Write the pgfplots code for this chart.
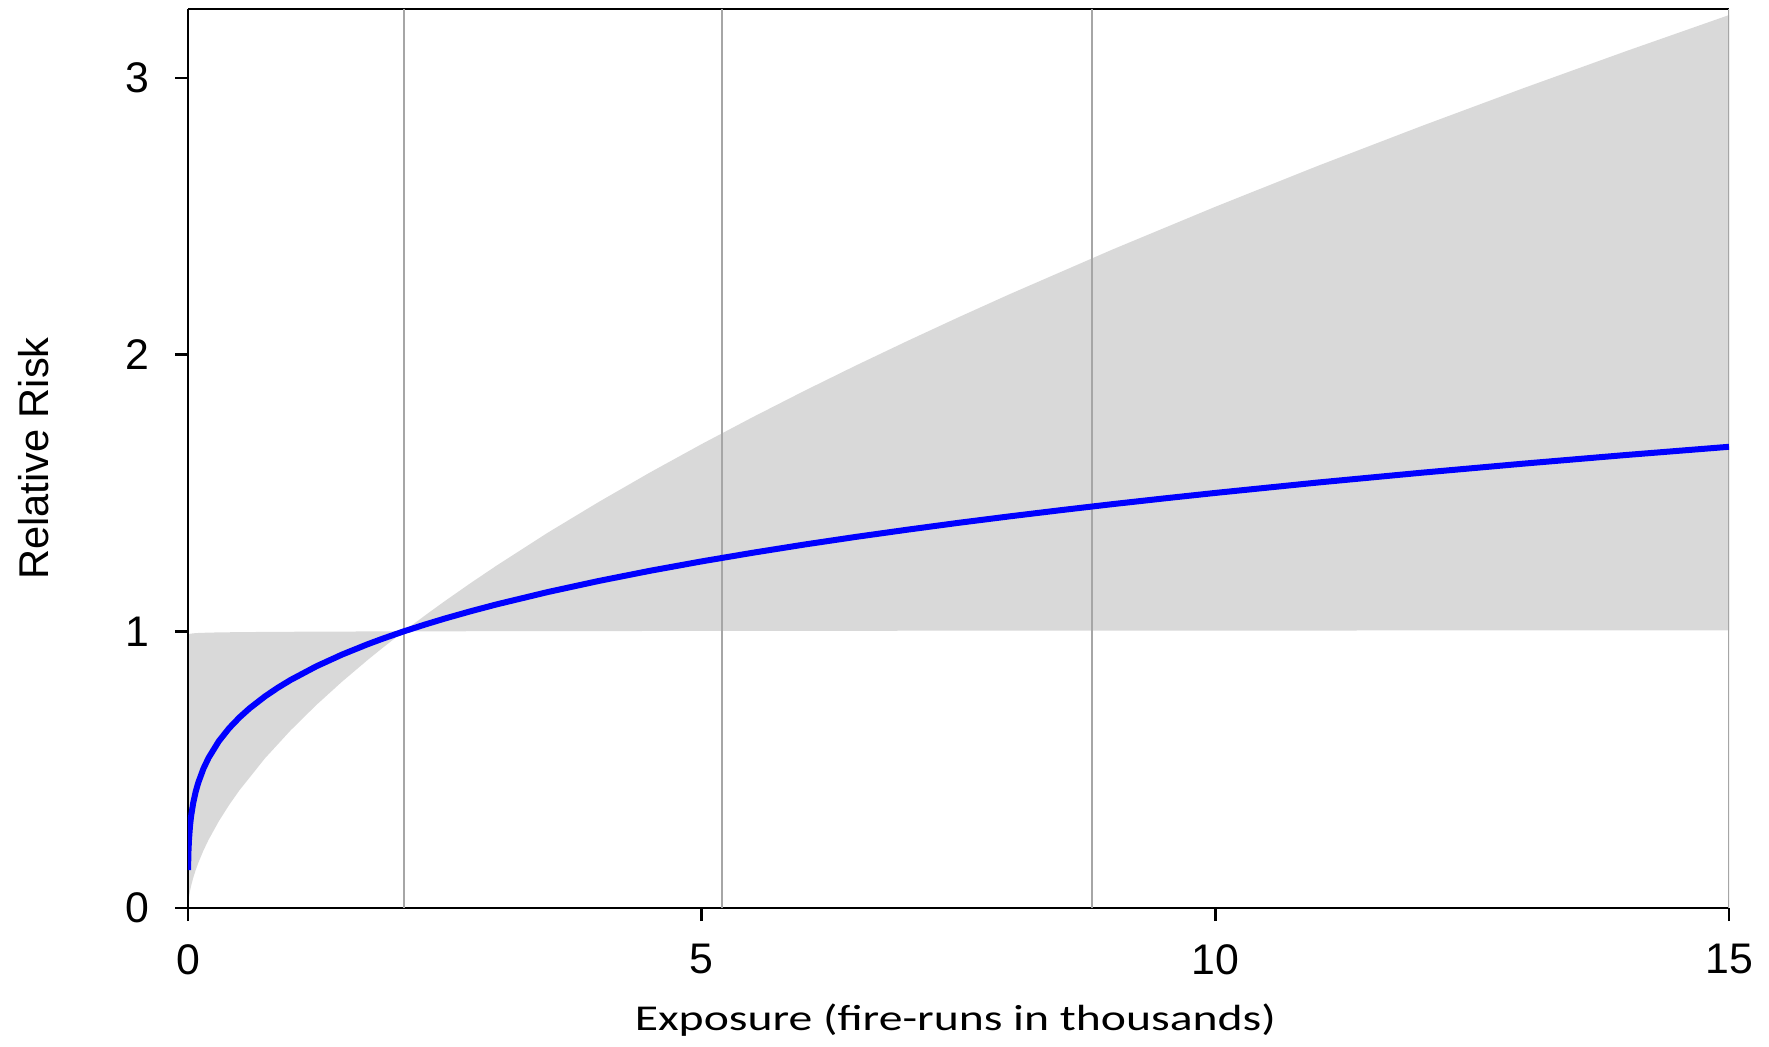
\documentclass[border=0pt]{standalone}
\usepackage{pgfplots}
\pgfplotsset{compat=1.18}
\usepackage{fontspec}
\setmainfont{Liberation Sans}
\newfontfamily\calibri[FakeStretch=1.31]{Carlito}
\definecolor{band}{HTML}{D9D9D9}
\definecolor{gridc}{HTML}{A6A6A6}
\definecolor{rrblue}{HTML}{0000FF}
\begin{document}
\begin{tikzpicture}
\begin{axis}[
  scale only axis, width=770.5pt, height=449.5pt,
  xmin=0, xmax=15, ymin=0, ymax=3.25,
  axis x line*=box, axis y line*=left,
  xtick={0,5,10,15}, ytick={0,1,2,3},
  xtick pos=bottom, ytick pos=left,
  tick align=outside, major tick length=6.5pt,
  every tick/.style={black, line width=1.3pt},
  axis line style={line width=1.3pt, black},
  /pgf/number format/assume math mode=true,
  tick label style={font=\fontsize{21.4}{24}\selectfont, inner sep=0pt},
  xticklabel style={anchor=north, yshift=-11.5pt},
  yticklabel style={anchor=east, xshift=-12.5pt},
  xlabel={\calibri\fontsize{18.2}{22}\selectfont Exposure (fire-runs in thousands)},
  ylabel={\fontsize{20.8}{24}\selectfont Relative Risk},
  xlabel style={at={(axis description cs:0.498,-0.1363)}, anchor=base, inner sep=0pt},
  ylabel style={at={(axis description cs:-0.0908,0.5)}, anchor=base, inner sep=0pt},
  clip=true,
]
\coordinate (A) at (rel axis cs:0,0);
\coordinate (B) at (rel axis cs:1,1);
% confidence band
\addplot[fill=band, draw=none] coordinates {
 (0.01,0.9899) (0.02,0.9912) (0.05,0.9929) (0.1,0.9942) (0.2,0.9955) (0.3,0.9963)
 (0.5,0.9973) (0.75,0.9980) (1,0.9986) (1.25,0.9990) (1.5,0.9994) (1.75,0.9997)
 (2.1,1.0000) (2.3,1.0557) (2.5,1.1095) (2.75,1.1743) (3,1.2369) (3.5,1.3563) (4,1.4683)
 (4.5,1.5751) (5,1.6771) (5.5,1.7750) (6,1.8696) (6.5,1.9610) (7,2.0494) (7.5,2.1355)
 (8,2.2193) (9,2.3807) (10,2.5350)
 (11,2.6832) (12,2.8258) (13,2.9639) (14,3.0978) (15,3.2281)
 (15,1.0037) (14,1.0036) (13,1.0035) (12,1.0033) (11,1.0031) (10,1.0030)
 (9,1.0028) (8,1.0025) (7,1.0023) (6,1.0020) (5,1.0016) (4,1.0012) (3,1.0007)
 (2.5,1.0003) (2.1,1.0000) (1.9,0.9421) (1.75,0.8970) (1.5,0.8183) (1.25,0.7341) (1,0.6426)
 (0.75,0.5414) (0.5,0.4252) (0.4,0.3722) (0.3,0.3136) (0.2,0.2463) (0.15,0.2075)
 (0.1,0.1629) (0.075,0.1372) (0.05,0.1078) (0.03,0.0795) (0.02,0.0624) (0.01,0.0413)
};
% vertical reference lines
\addplot[gridc, line width=1pt] coordinates {(2.1,0) (2.1,3.25)};
\addplot[gridc, line width=1pt] coordinates {(5.2,0) (5.2,3.25)};
\addplot[gridc, line width=1pt] coordinates {(8.8,0) (8.8,3.25)};
\addplot[gridc, line width=1.2pt] coordinates {(15,0) (15,3.25)};
% estimated relative risk
\addplot[rrblue, line width=3pt, line join=round] coordinates {
 (0.001,0.1368) (0.003,0.1821) (0.005,0.2080) (0.01,0.2490) (0.02,0.2982) (0.03,0.3314)
 (0.05,0.3784) (0.075,0.4205) (0.1,0.4531) (0.15,0.5035) (0.2,0.5426) (0.3,0.6030)
 (0.4,0.6498) (0.5,0.6886) (0.6,0.7220) (0.75,0.7651) (0.875,0.7964) (1,0.8246)
 (1.25,0.8738) (1.5,0.9162) (1.75,0.9537) (1.9,0.9743) (2.1,1.0000) (2.3,1.0239)
 (2.5,1.0464) (2.75,1.0726) (3,1.0972) (3.5,1.1420) (4,1.1824) (4.5,1.2192) (5,1.2530)
 (5.5,1.2844) (6,1.3139) (6.5,1.3415) (7,1.3675) (7.5,1.3924) (8,1.4159) (8.5,1.4384)
 (9,1.4600) (9.5,1.4806) (10,1.5005) (11,1.5382)
 (12,1.5733) (13,1.6064) (14,1.6377) (15,1.6673)
};
\end{axis}
\pgfresetboundingbox
\path ([shift={(-94pt,-69.5pt)}]A) rectangle ([shift={(20pt,4.5pt)}]B);
\end{tikzpicture}
\end{document}
